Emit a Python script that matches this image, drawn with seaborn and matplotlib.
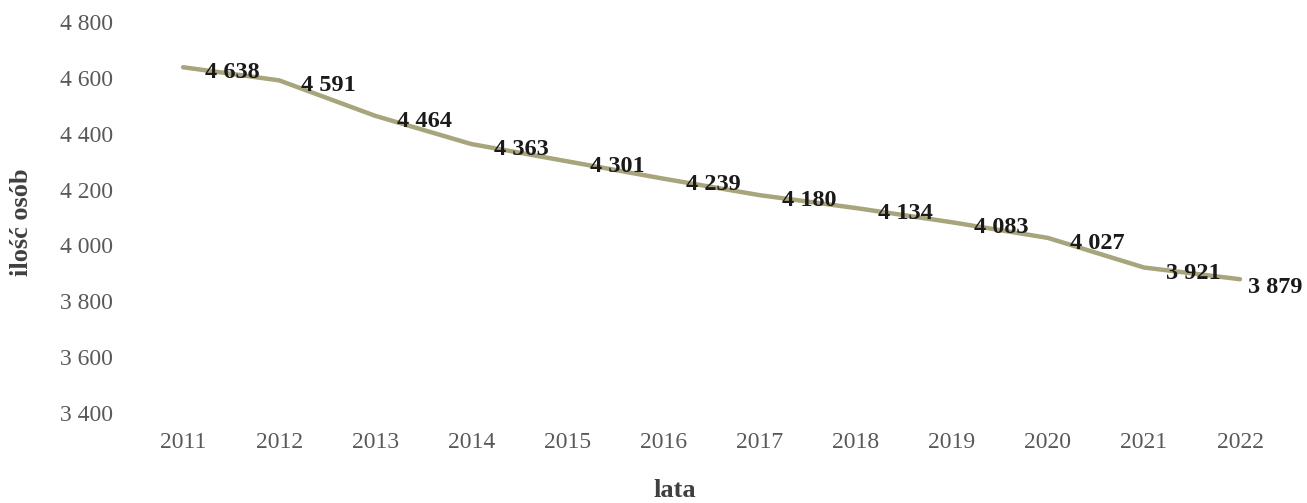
import matplotlib
matplotlib.use("Agg")
import matplotlib.pyplot as plt
import seaborn as sns
import pandas as pd

years = ["2011", "2012", "2013", "2014", "2015", "2016", "2017", "2018", "2019", "2020", "2021", "2022"]
values = [4638, 4591, 4464, 4363, 4301, 4239, 4180, 4134, 4083, 4027, 3921, 3879]
yticks = [3400, 3600, 3800, 4000, 4200, 4400, 4600, 4800]

def fmt(v):
    return f"{v:,}".replace(",", " ")

sns.set_theme(style="white")
plt.rcParams['font.family'] = ['Liberation Serif', 'DejaVu Serif']

df = pd.DataFrame({"lata": years, "val": values})
df["pos"] = range(len(years))

fig = plt.figure(figsize=(13.07, 5.03), dpi=100)
ax = fig.add_axes([0.1033, 0.1789, 0.8822, 0.7774])
sns.lineplot(data=df, x="pos", y="val", ax=ax, color="#a8a47c", linewidth=3.2)

for i, v in enumerate(values):
    last = i == len(values) - 1
    dx = 6 if last else 16
    dy = -6 if last else -4
    ax.annotate(fmt(v), (i, v), xytext=(dx, dy), textcoords="offset points",
                ha="left", va="center", fontsize=17.5, fontweight="bold", color="#1a1a1a")

ax.set_xlim(-0.5, len(years) - 0.5)
ax.set_ylim(3400, 4800)
ax.set_xticks(range(len(years)))
ax.set_xticklabels(years)
ax.set_yticks(yticks)
ax.set_yticklabels([fmt(t) for t in yticks])
ax.tick_params(axis="both", labelsize=17, colors="#595959", length=0)
ax.tick_params(axis="x", pad=14)
ax.tick_params(axis="y", pad=16)
for s in ax.spines.values():
    s.set_visible(False)
ax.set_xlabel("lata", fontsize=19, fontweight="bold", color="#404040")
ax.set_ylabel("ilość osób", fontsize=19, fontweight="bold", color="#404040")
ax.xaxis.set_label_coords(0.468, -0.17)
ax.yaxis.set_label_coords(-0.0885, 0.488)

fig.savefig("out.png", dpi=100)
